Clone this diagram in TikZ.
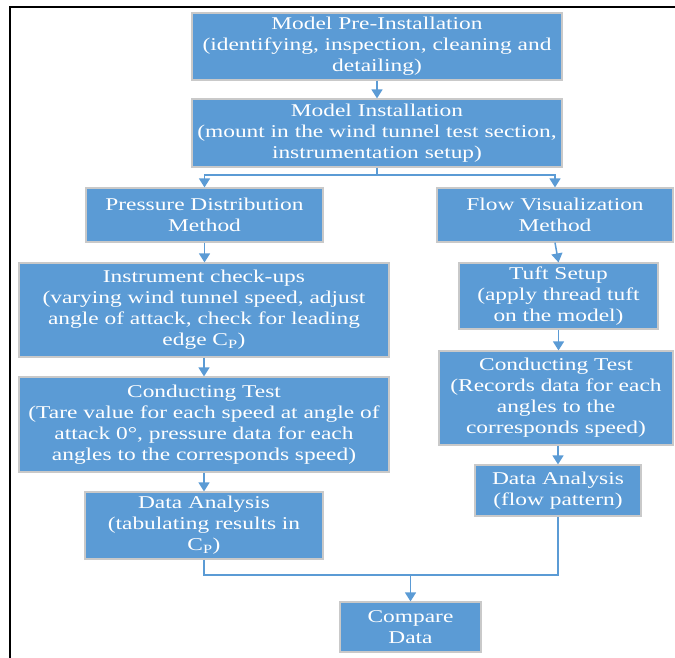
\documentclass[tikz,border=0pt]{standalone}
\usepackage{fontspec}
\setmainfont[FakeStretch=1.3]{Liberation Serif}
\usepackage{tikz}
\usetikzlibrary{arrows.meta,positioning,calc}
\definecolor{boxcol}{HTML}{5B9BD5}
\definecolor{rimcol}{HTML}{C9C9C9}

\begin{document}
\begin{tikzpicture}[x=1pt, y=-1pt,
  box/.style={draw=rimcol, line width=1.2pt, fill=boxcol, text=white,
              align=center, inner sep=2pt,
              font=\fontsize{18}{21}\selectfont},
  edge/.style={-{Triangle[length=9pt,width=11pt]}, line width=1.5pt, color=boxcol},
  link/.style={line width=1.5pt, color=boxcol}
]
  \useasboundingbox (0,0) rectangle (675,658);
  \draw[line width=2pt] (675,7.5) -- (10,7.5) -- (10,658);

  % top part
  \node[box, minimum width=370pt, minimum height=67pt] (pre) at (377,46.5)
    {Model Pre-Installation\\(identifying, inspection, cleaning and\\detailing)};
  \node[box, minimum width=370pt, minimum height=68pt] (inst) at (377,133)
    {Model Installation\\(mount in the wind tunnel test section,\\instrumentation setup)};

  % left column
  \node[box, minimum width=237pt, minimum height=54pt] (pdm) at (204.5,215)
    {Pressure Distribution\\Method};
  \node[box, minimum width=370pt, minimum height=94pt] (chk) at (204,310)
    {Instrument check-ups\\(varying wind tunnel speed, adjust\\angle of attack, check for leading\\edge C\textsubscript{P})};
  \node[box, minimum width=370pt, minimum height=95pt] (ctl) at (204,424.5)
    {Conducting Test\\(Tare value for each speed at angle of\\attack 0°, pressure data for each\\angles to the corresponds speed)};
  \node[box, minimum width=238pt, minimum height=67pt] (dal) at (204,525.5)
    {Data Analysis\\(tabulating results in\\C\textsubscript{P})};

  % right column
  \node[box, minimum width=236pt, minimum height=54pt] (fvm) at (555,215)
    {Flow Visualization\\Method};
  \node[box, minimum width=199pt, minimum height=66pt] (tuft) at (558.5,296)
    {Tuft Setup\\(apply thread tuft\\on the model)};
  \node[box, minimum width=234pt, minimum height=94pt] (ctr) at (556,398)
    {Conducting Test\\(Records data for each\\angles to the\\corresponds speed)};
  \node[box, minimum width=166pt, minimum height=51pt] (dar) at (558,490.5)
    {Data Analysis\\(flow pattern)};

  \node[box, minimum width=141pt, minimum height=50pt] (cmp) at (410.5,627)
    {Compare\\Data};

  \coordinate (split) at (377,175);
  \coordinate (merge) at (410.5,575);

  \draw[edge] (pre) -- (inst);
  \draw[link] (inst) -- (split);
  \draw[edge] (split) -| (pdm);
  \draw[edge] (split) -| (fvm);
  \draw[edge] (pdm) -- (pdm |- chk.north);
  \draw[edge] (chk) -- (ctl);
  \draw[edge] (ctl) -- (ctl |- dal.north);
  \draw[edge] (fvm.south) -- (tuft.north);
  \draw[edge] (tuft) -- (tuft |- ctr.north);
  \draw[edge] (ctr.south -| dar) -- (dar);
  \draw[link] (dal) |- (merge);
  \draw[link] (dar) |- (merge);
  \draw[edge] (merge) -- (cmp);
\end{tikzpicture}
\end{document}
